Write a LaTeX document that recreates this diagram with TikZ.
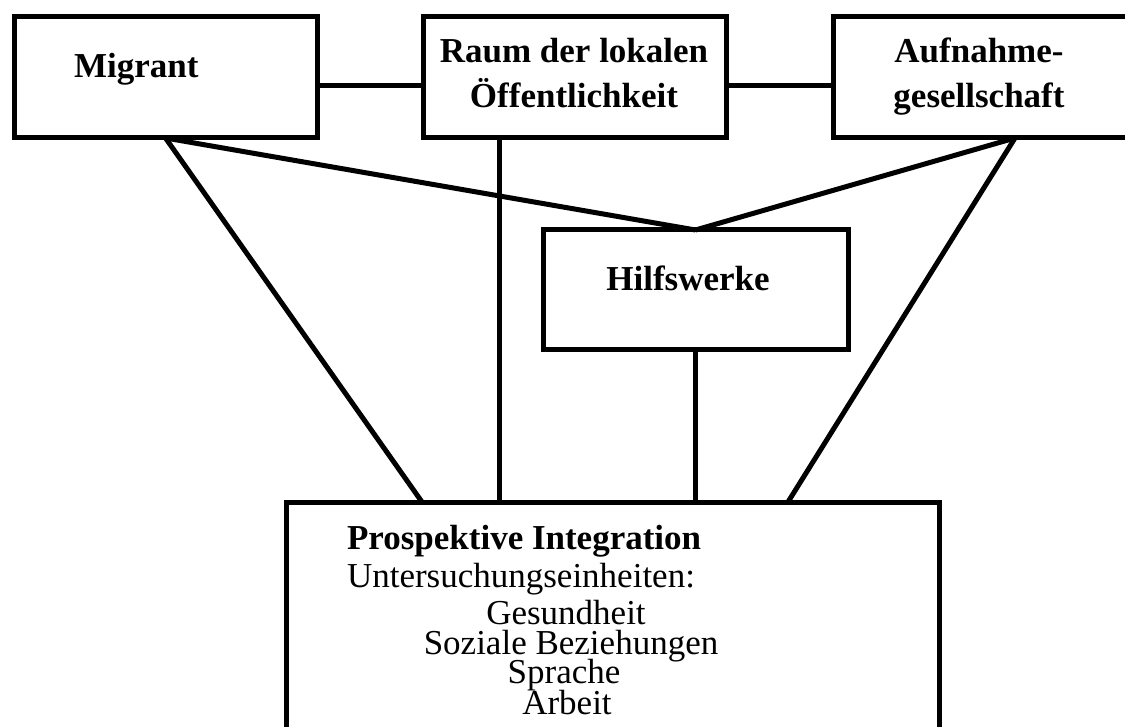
\documentclass[tikz,border=0pt]{standalone}
\usepackage{fontspec}
\setmainfont{Liberation Serif}
\usetikzlibrary{calc}
\tikzset{
  box/.style={draw=black, line width=5pt, fill=white, rectangle, outer sep=0pt, inner sep=0pt},
  conn/.style={draw=black, line width=5pt},
  btxt/.style={font=\fontsize{35}{45}\selectfont\bfseries, inner sep=0pt, outer sep=0pt},
  rtxt/.style={font=\fontsize{35}{45}\selectfont, inner sep=0pt, outer sep=0pt}
}
\begin{document}
\begin{tikzpicture}[x=1pt, y=-1pt]
\useasboundingbox (0,0) rectangle (1125,727);
\clip (0,0) rectangle (1125,727);
\fill[white] (0,0) rectangle (1125,727);

% boxes
\node[box, minimum width=303pt, minimum height=121pt] (mig) at (165.5,77.5) {};
\node[box, minimum width=303pt, minimum height=121pt] (raum) at (574.5,77.5) {};
\node[box, minimum width=303pt, minimum height=121pt] (auf) at (984.5,77.5) {};
\node[box, minimum width=305pt, minimum height=120pt] (hil) at (695.5,290) {};
\node[box, minimum width=653pt, minimum height=278pt] (int) at (612.5,641) {};

% connectors
\draw[conn] ([yshift=-8.5pt]mig.east) -- ([yshift=-8.5pt]raum.west);
\draw[conn] ([yshift=-8.5pt]raum.east) -- ([yshift=-8.5pt]auf.west);
\draw[conn] (mig.south) -- (hil.north);
\draw[conn] ([xshift=182pt]auf.south west) -- (hil.north);
\draw[conn] (mig.south) -- ([xshift=136pt]int.north west);
\draw[conn] ([xshift=76pt]raum.south west) -- ([xshift=213pt]int.north west);
\draw[conn] (hil.south) -- (hil.south |- int.north);
\draw[conn] ([xshift=182pt]auf.south west) -- ([xshift=502pt]int.north west);

% texts
\node[btxt, anchor=base west] (migT) at (74,78) {Migrant};
\node[btxt, anchor=base] (raumT1) at (574,63) {Raum der lokalen};
\node[btxt, anchor=base] (raumT2) at (574,108) {Öffentlichkeit};
\node[btxt, anchor=base] (aufT1) at (979,63) {Aufnahme-};
\node[btxt, anchor=base] (aufT2) at (979,108) {gesellschaft};
\node[btxt, anchor=base] (hilT) at (688,291) {Hilfswerke};
\node[btxt, anchor=base west] (intT1) at (347,549) {Prospektive Integration};
\node[rtxt, anchor=base west] (intT2) at (347,587) {Untersuchungseinheiten:};
\node[rtxt, anchor=base] (intT3) at (566,624) {Gesundheit};
\node[rtxt, anchor=base] (intT4) at (571,654) {Soziale Beziehungen};
\node[rtxt, anchor=base] (intT5) at (564,683) {Sprache};
\node[rtxt, anchor=base] (intT6) at (567,714) {Arbeit};
\end{tikzpicture}
\end{document}
